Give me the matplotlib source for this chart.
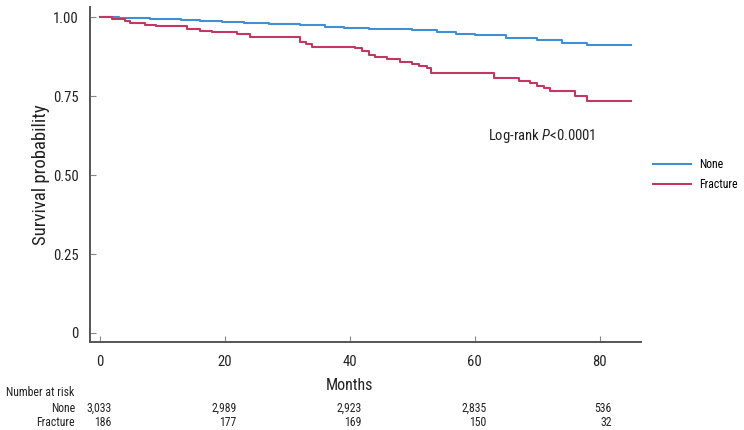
import numpy as np
import matplotlib
matplotlib.use('Agg')
import matplotlib.pyplot as plt
import matplotlib.transforms as mtransforms
from matplotlib import font_manager

names = set(f.name for f in font_manager.fontManager.ttflist)
font = 'DejaVu Sans'
for cand in ['Roboto Condensed', 'Liberation Sans Narrow', 'Open Sans Condensed', 'Liberation Sans']:
    if cand in names:
        font = cand
        break
plt.rcParams['font.family'] = [font, 'DejaVu Sans']
plt.rcParams['mathtext.fontset'] = 'custom'
plt.rcParams['mathtext.it'] = font + ':italic'
plt.rcParams['mathtext.rm'] = font

# Kaplan-Meier steps
none_t = [0, 3, 8, 13, 16, 19.5, 23, 27, 32, 36, 39, 43, 50, 54, 57, 60, 65, 70, 74, 78, 85]
none_s = [1.0, 0.996, 0.994, 0.990, 0.987, 0.984, 0.981, 0.977, 0.974, 0.970, 0.966,
          0.961, 0.958, 0.953, 0.948, 0.943, 0.934, 0.926, 0.919, 0.911, 0.911]
frac_t = [0, 2, 4, 4.8, 7.2, 9, 14, 16, 18, 22, 24, 32, 33, 34, 40.8, 42, 43, 44, 46, 48,
          50, 51, 52.3, 53, 63, 67, 68.8, 70, 71, 72, 76, 78, 85]
frac_s = [1.0, 0.994, 0.987, 0.982, 0.975, 0.971, 0.962, 0.956, 0.952, 0.945, 0.938,
          0.922, 0.914, 0.906, 0.901, 0.893, 0.880, 0.874, 0.866, 0.858, 0.853, 0.845,
          0.840, 0.823, 0.806, 0.798, 0.790, 0.782, 0.774, 0.766, 0.750, 0.734, 0.734]

risk_times = [0, 20, 40, 60, 80]
risk_none = ['3,033', '2,989', '2,923', '2,835', '536']
risk_frac = ['186', '177', '169', '150', '32']

blue = '#3f8fd2'
red = '#c23862'
grey = '#555555'
txt = '#222222'

fig = plt.figure(figsize=(7.44, 4.30), dpi=100)
ax = fig.add_axes([90/744, 88/430, 551/744, 335/430])

ax.fill_between(none_t, np.array(none_s) - 0.003, np.array(none_s) + 0.003,
                step='post', color=blue, alpha=0.15, lw=0)
ax.fill_between(frac_t, np.array(frac_s) - 0.003, np.array(frac_s) + 0.003,
                step='post', color=red, alpha=0.12, lw=0)
ax.step(none_t, none_s, where='post', color=blue, lw=1.5, label='None')
ax.step(frac_t, frac_s, where='post', color=red, lw=1.5, label='Fracture')

ax.set_xlim(-1.6, 86.6)
ax.set_ylim(-0.0285, 1.032)
ax.set_xticks([0, 20, 40, 60, 80])
ax.set_yticks([0, 0.25, 0.5, 0.75, 1.0])
ax.set_yticklabels(['0', '0.25', '0.50', '0.75', '1.00'])
for s in ['top', 'right']:
    ax.spines[s].set_visible(False)
for s in ['left', 'bottom']:
    ax.spines[s].set_color(grey)
    ax.spines[s].set_linewidth(1.4)
ax.tick_params(direction='in', length=4, width=0.8, color='#888888',
               labelsize=10.5, labelcolor=txt)
ax.tick_params(axis='x', pad=9)
ax.tick_params(axis='y', pad=8)

ax.set_ylabel('Survival probability', fontsize=13.5, color=txt)
ax.yaxis.set_label_coords(-0.073, 0.5)
ax.set_xlabel('Months', fontsize=11.5, color=txt)
ax.xaxis.set_label_coords((40 + 1.6) / 88.2, -0.107)

ax.text(62.1, 0.623, 'Log-rank $P$<0.0001', fontsize=10.5, color=txt,
        ha='left', va='center')

ax.legend(loc='upper left', bbox_to_anchor=(1.022, 0.55), frameon=False,
          borderpad=0, borderaxespad=0, handlelength=3.2, handletextpad=0.7,
          labelspacing=0.6, fontsize=8.5)

# number at risk table
fig.text(6/744, 1 - 393/430, 'Number at risk', fontsize=8.5, ha='left', va='center', color=txt)
fig.text(75/744, 1 - 408/430, 'None', fontsize=8.5, ha='right', va='center', color=txt)
fig.text(75/744, 1 - 423/430, 'Fracture', fontsize=8.5, ha='right', va='center', color=txt)
trans = mtransforms.blended_transform_factory(ax.transData, fig.transFigure)
for t, a, b in zip(risk_times, risk_none, risk_frac):
    ax.text(t + 1.9, 1 - 408/430, a, transform=trans, fontsize=8.5, ha='right',
            va='center', color=txt)
    ax.text(t + 1.9, 1 - 423/430, b, transform=trans, fontsize=8.5, ha='right',
            va='center', color=txt)

fig.savefig('out.png', dpi=100)
